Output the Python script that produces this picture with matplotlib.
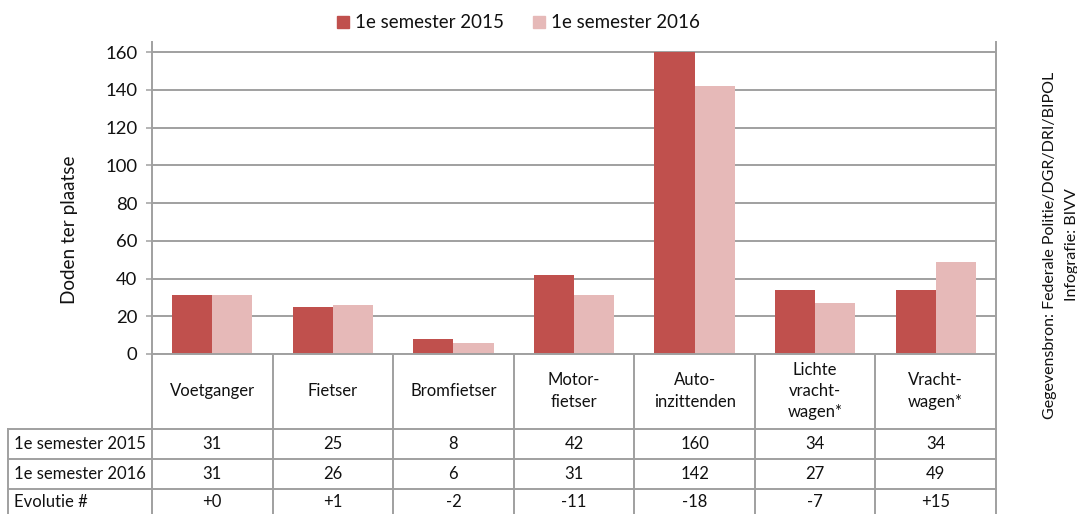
import matplotlib
matplotlib.use("Agg")
import matplotlib.pyplot as plt
import matplotlib.transforms as mtransforms
from matplotlib.lines import Line2D

plt.rcParams['font.family'] = ['Lato', 'DejaVu Sans']

# ---- data ----
categories = ["Voetganger", "Fietser", "Bromfietser", "Motor-\nfietser",
              "Auto-\ninzittenden", "Lichte\nvracht-\nwagen*", "Vracht-\nwagen*"]
series_names = ["1e semester 2015", "1e semester 2016"]
values_2015 = [31, 25, 8, 42, 160, 34, 34]
values_2016 = [31, 26, 6, 31, 142, 27, 49]
evolution_label = "Evolutie #"
y_ticks = [0, 20, 40, 60, 80, 100, 120, 140, 160]
y_label = "Doden ter plaatse"
source_text = "Gegevensbron: Federale Politie/DGR/DRI/BIPOL\nInfografie: BIVV"

c2015 = "#C0504D"
c2016 = "#E6B9B8"
grid_c = "#A0A0A0"
txt_c = "#111111"

W, H = 1077, 514
fig = plt.figure(figsize=(W / 100, H / 100), dpi=100)

# axes in pixel coords
ax_l, ax_r, ax_t, ax_b = 152, 996, 42, 354
ax = fig.add_axes([ax_l / W, 1 - ax_b / H, (ax_r - ax_l) / W, (ax_b - ax_t) / H])

n = len(categories)
x = list(range(n))
bw = 1 / 3
ax.bar([i - bw / 2 for i in x], values_2015, width=bw, color=c2015, zorder=3)
ax.bar([i + bw / 2 for i in x], values_2016, width=bw, color=c2016, zorder=3)

ax.set_xlim(-0.5, n - 0.5)
ax.set_ylim(0, 165.3)
ax.set_yticks(y_ticks)
ax.set_yticklabels([str(t) for t in y_ticks], fontsize=13.3, color=txt_c)
ax.set_xticks([])
ax.yaxis.grid(True, color=grid_c, linewidth=1.4, zorder=0)
ax.set_axisbelow(True)
ax.tick_params(axis='y', direction='out', length=4.5, width=1.1, color=grid_c, pad=6)
ax.spines['top'].set_visible(False)
for s in ['left', 'right', 'bottom']:
    ax.spines[s].set_color(grid_c)
    ax.spines[s].set_linewidth(1.4)
ax.spines['bottom'].set_zorder(4)

# y label
fig.text(70 / W, 1 - 230 / H, y_label, rotation=90, ha='center', va='center',
         fontsize=13.6, color=txt_c)

# ---- table ----
pix = mtransforms.Affine2D().scale(1 / W, -1 / H).translate(0, 1) + fig.transFigure
blend = mtransforms.blended_transform_factory(ax.transData, pix)

row_lines = [429, 459, 489]
row_centers = [444, 474, 502]
lw_t = 1.4
# vertical lines at category boundaries
for k in range(n + 1):
    xb = k - 0.5
    fig.add_artist(Line2D([xb, xb], [354, H + 5], transform=blend, color=grid_c, lw=lw_t))
# left column border
fig.add_artist(Line2D([8, 8], [429, H + 5], transform=pix, color=grid_c, lw=lw_t))
# horizontal lines
for yline in row_lines:
    fig.add_artist(Line2D([8, ax_r], [yline, yline], transform=pix, color=grid_c, lw=lw_t))

# header texts
for i, cat in enumerate(categories):
    fig.text(i, 391, cat, transform=blend, ha='center', va='center', fontsize=12,
             color=txt_c, linespacing=1.42)

evol = [b - a for a, b in zip(values_2015, values_2016)]
rows = [
    (series_names[0], [str(v) for v in values_2015]),
    (series_names[1], [str(v) for v in values_2016]),
    (evolution_label, [f"{d:+d}" for d in evol]),
]
for r, (lab, vals) in enumerate(rows):
    yc = row_centers[r]
    fig.text(14, yc, lab, transform=pix, ha='left', va='center', fontsize=12, color=txt_c)
    for i, v in enumerate(vals):
        fig.text(i, yc, v, transform=blend, ha='center', va='center', fontsize=12, color=txt_c)

# ---- legend ----
handles = [Line2D([], [], marker='s', linestyle='none', markersize=8.6, color=c2015),
           Line2D([], [], marker='s', linestyle='none', markersize=8.6, color=c2016)]
fig.legend(handles, series_names, loc='center', bbox_to_anchor=(518 / W, 1 - 23 / H),
           ncol=2, frameon=False, fontsize=13.5, handlelength=0.7, handletextpad=0.3,
           columnspacing=1.5, labelcolor=txt_c)

# ---- source ----
fig.text(1061 / W, 1 - 245 / H, source_text, rotation=90, ha='center', va='center',
         fontsize=11.5, color=txt_c, multialignment='center', linespacing=1.75)

fig.savefig("out.png", dpi=100)
